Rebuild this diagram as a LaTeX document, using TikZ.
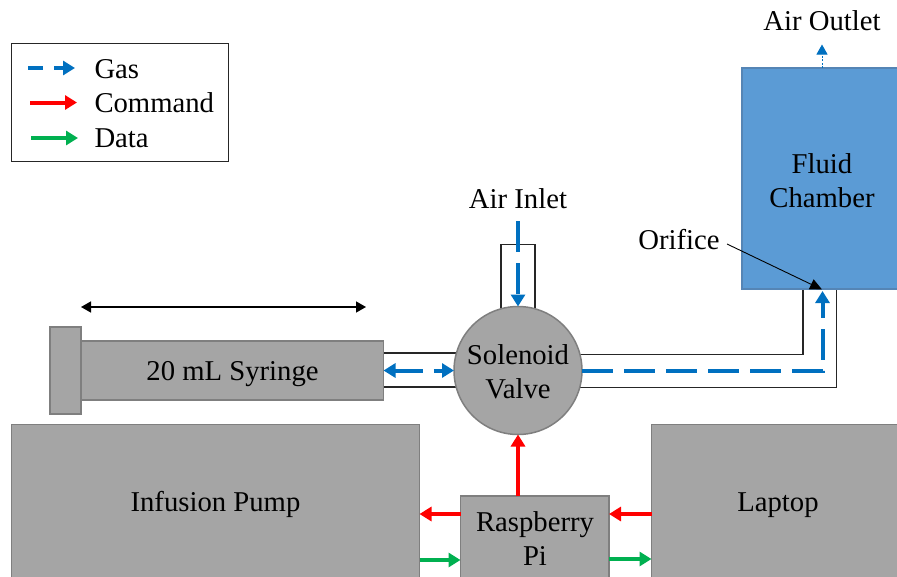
\documentclass[tikz,border=0pt]{standalone}
\usepackage{fontspec}
\setmainfont{Liberation Serif}
\usetikzlibrary{arrows.meta,calc}
\pgfdeclarelayer{behind}
\pgfsetlayers{behind,main}
\definecolor{shapegray}{HTML}{A5A5A5}
\definecolor{edgegray}{HTML}{7F7F7F}
\definecolor{gasblue}{HTML}{0070C0}
\definecolor{cmdred}{HTML}{FF0000}
\definecolor{datagreen}{HTML}{00B050}
\definecolor{chamberblue}{HTML}{5B9BD5}
\definecolor{chamberedge}{HTML}{5585B5}
\tikzset{
  x=1pt,y=-1pt,
  every node/.style={font=\fontsize{28.7}{34.5}\selectfont,inner sep=0pt,outer sep=0pt},
  graybox/.style={draw=edgegray,fill=shapegray,line width=1.5pt,rectangle,align=center,text height=20pt,text depth=0pt},
  valvebody/.style={draw=edgegray,fill=shapegray,line width=1.5pt,circle,align=center},
  chamberbox/.style={draw=chamberedge,fill=chamberblue,line width=1.2pt,rectangle,align=center},
  label/.style={anchor=base,align=center},
  legendtext/.style={anchor=base west},
  tube/.style={draw=black!85,line width=1.4pt},
  gas/.style={draw=gasblue,line width=4pt,-{Triangle[length=12pt,width=14pt]}},
  command/.style={draw=cmdred,line width=4pt,-{Triangle[length=12pt,width=14pt]}},
  data/.style={draw=datagreen,line width=4pt,-{Triangle[length=12pt,width=14pt]}},
}
\begin{document}
\begin{tikzpicture}
\clip (0,0) rectangle (897,576);
% legend
\node[draw=black!85,line width=1.5pt,minimum width=217pt,minimum height=118pt,anchor=north west] (legend) at (11.5,43.5) {};
\node[legendtext] (lgas) at (94.5,78) {Gas};
\node[legendtext] (lcmd) at (94.5,112.5) {Command};
\node[legendtext] (ldat) at (94.5,147) {Data};
\coordinate (g1) at (28,68); \coordinate (g2) at (75,68);
\coordinate (c1) at (30,102.5); \coordinate (c2) at (77,102.5);
\coordinate (d1) at (31,138); \coordinate (d2) at (78,138);
\draw[gas,dash pattern=on 15pt off 11pt] (g1) -- (g2);
\draw[command] (c1) -- (c2);
\draw[data] (d1) -- (d2);
% main shapes
\node[chamberbox,minimum width=170pt,minimum height=221pt,anchor=north west] (chamber) at (742,68) {};
\node[label] (fluid) at (822,173) {Fluid};
\node[label] (chambertext) at (822,207) {Chamber};
\node[graybox,minimum width=302pt,minimum height=59pt] (syringe) at (232.5,370.5) {20 mL Syringe};
\node[graybox,minimum width=31pt,minimum height=87pt,anchor=north west] (plunger) at (50,327) {};
\node[graybox,minimum width=408pt,minimum height=154pt,anchor=north west] (pump) at (11.5,424.5) {Infusion Pump};
\node[graybox,minimum width=270pt,minimum height=154pt,anchor=north west] (laptop) at (651.5,424.5) {};
\node[label] (laptoptext) at (778,511) {Laptop};
\node[valvebody,minimum size=128pt] (valve) at (518,370.5) {};
\node[label] (sol) at (518,364) {Solenoid};
\node[label] (val) at (518,398) {Valve};
\node[graybox,minimum width=148.5pt,minimum height=90pt,anchor=north west] (pi) at (460.5,496) {};
\node[label] (rasp) at (535,531) {Raspberry};
\node[label] (pitext) at (535,565) {Pi};
% tubes behind the shapes
\begin{pgfonlayer}{behind}
\coordinate (inTL) at (501,244.5); \coordinate (inTR) at (535,244.5);
\draw[tube] (inTL |- valve.center) -- (inTL) -- (inTR) -- (inTR |- valve.center);
\draw[tube] (syringe.east |- 0,353) -- (valve.center |- 0,353);
\draw[tube] (syringe.east |- 0,387) -- (valve.center |- 0,387);
\coordinate (outA) at (803,354.5); \coordinate (outB) at (836.5,387.5);
\draw[tube] (valve.center |- outA) -- (outA) -- (outA |- chamber.south);
\draw[tube] (valve.center |- outB) -- (outB) -- (outB |- chamber.south);
\end{pgfonlayer}
% gas lines
\node[label] (inlet) at (518,208) {Air Inlet};
\node[label] (outlet) at (822,30) {Air Outlet};
\node[label] (orifice) at (679,249) {Orifice};
\coordinate (inletstart) at (518,221);
\draw[gas,dash pattern=on 31pt off 11pt] (inletstart) -- (valve.north);
\coordinate (gascorner) at (822.5,371);
\coordinate (orifstart) at (727,244);
\coordinate (orifend) at (822,289.5);
\draw[gas,dash pattern=on 31pt off 11pt] (582,371) -- (gascorner) -- (822.5,291);
\draw[gas,dash pattern=on 28pt off 11pt,{Triangle[length=12pt,width=14pt]}-{Triangle[length=12pt,width=14pt]}] (syringe.east) -- (valve.west);
\coordinate (outtip) at (822,44.5);
\draw[draw=gasblue,line width=1pt,dash pattern=on 2pt off 1.5pt,-{Triangle[length=10pt,width=11pt]}] (chamber.north -| outtip) -- (outtip);
% orifice pointer and stroke arrow
\draw[draw=black,line width=0.9pt,-{Triangle[length=12pt,width=11pt]}] (orifstart) -- (orifend);
\coordinate (st1) at (81,307); \coordinate (st2) at (366,307);
\draw[draw=black,line width=1.5pt,{Triangle[length=10pt,width=11pt]}-{Triangle[length=10pt,width=11pt]}] (st1) -- (st2);
% commands and data
\draw[command] (pi.north -| valve.south) -- (valve.south);
\draw[command] (pi.west |- 0,514) -- (pump.east |- 0,514);
\draw[command] (laptop.west |- 0,514) -- (pi.east |- 0,514);
\draw[data] (pump.east |- 0,560) -- (pi.west |- 0,560);
\draw[data] (pi.east |- 0,559) -- (laptop.west |- 0,559);
\end{tikzpicture}
\end{document}
